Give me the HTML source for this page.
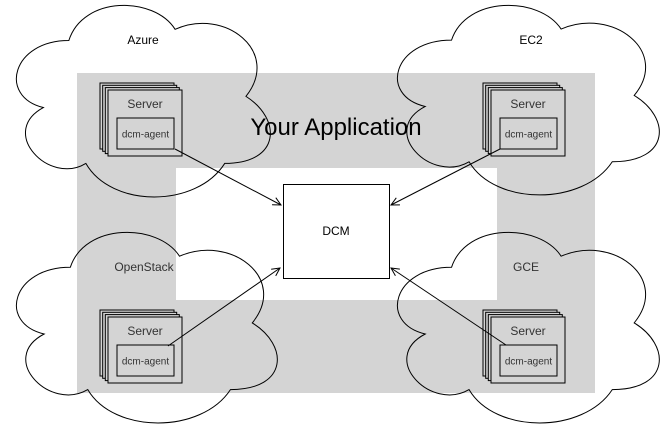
<!DOCTYPE html>
<html><head><style>
html,body{margin:0;padding:0;background:#fff;}
svg{display:block;font-family:"Liberation Sans",sans-serif;}
</style></head><body>
<svg width="672" height="431" viewBox="0 0 672 431">
<defs>
<marker id="ah" markerWidth="10" markerHeight="10" refX="9" refY="5" orient="auto" markerUnits="userSpaceOnUse">
<path d="M1,1 L9,5 L1,9" fill="none" stroke="#000" stroke-width="1"/>
</marker>
<g id="stack">
<rect x="0" y="0" width="74" height="66" fill="#d4d4d4" stroke="#000" stroke-width="1"/>
<rect x="2.7" y="2.3" width="74" height="66" fill="#d4d4d4" stroke="#000" stroke-width="1"/>
<rect x="5.3" y="4.6" width="74" height="66" fill="#d4d4d4" stroke="#000" stroke-width="1"/>
<rect x="8" y="7" width="74" height="66" fill="#d4d4d4" stroke="#000" stroke-width="1"/>
<text x="45" y="25" font-size="12" fill="#333" text-anchor="middle">Server</text>
<rect x="17" y="35" width="57" height="31" fill="none" stroke="#000" stroke-width="1"/>
<text x="45.5" y="54.5" font-size="10" fill="#333" text-anchor="middle">dcm-agent</text>
</g>
</defs>
<path fill-rule="evenodd" fill="#d4d4d4" d="M77,73 H595 V393 H77 Z M176,168 V300 H497 V168 Z"/>
<text x="336" y="135" font-size="24" text-anchor="middle" fill="#000">Your Application</text>
<rect x="283.5" y="184.5" width="106" height="94" fill="#fff" stroke="#000"/>
<text x="336" y="235" font-size="12" text-anchor="middle">DCM</text>

<use href="#stack" x="100" y="83"/>
<use href="#stack" x="483" y="83"/>
<use href="#stack" x="100" y="310"/>
<use href="#stack" x="483" y="310"/>

<g fill="none" stroke="#000" stroke-width="1">
<svg x="15" y="5" width="256" height="190" viewBox="2.2 7.3 108.4 68" preserveAspectRatio="none" overflow="visible"><path vector-effect="non-scaling-stroke" d="M25,20 C1,20 -5,40 14.2,44 C-5,52.8 16.6,72 32.2,64 C43,80 79,80 91,64 C115,64 115,48 100,40 C115,24 91,8 70,16 C61,4 31,4 25,20 Z"/></svg>
<svg x="396" y="5" width="264" height="188" viewBox="2.2 7.3 108.4 68" preserveAspectRatio="none" overflow="visible"><path vector-effect="non-scaling-stroke" d="M25,20 C1,20 -5,40 14.2,44 C-5,52.8 16.6,72 32.2,64 C43,80 79,80 91,64 C115,64 115,48 100,40 C115,24 91,8 70,16 C61,4 31,4 25,20 Z"/></svg>
<svg x="15" y="232" width="263" height="189" viewBox="2.2 7.3 108.4 68" preserveAspectRatio="none" overflow="visible"><path vector-effect="non-scaling-stroke" d="M25,20 C1,20 -5,40 14.2,44 C-5,52.8 16.6,72 32.2,64 C43,80 79,80 91,64 C115,64 115,48 100,40 C115,24 91,8 70,16 C61,4 31,4 25,20 Z"/></svg>
<svg x="396" y="232" width="264" height="189" viewBox="2.2 7.3 108.4 68" preserveAspectRatio="none" overflow="visible"><path vector-effect="non-scaling-stroke" d="M25,20 C1,20 -5,40 14.2,44 C-5,52.8 16.6,72 32.2,64 C43,80 79,80 91,64 C115,64 115,48 100,40 C115,24 91,8 70,16 C61,4 31,4 25,20 Z"/></svg>
</g>

<g font-size="12" fill="#000" text-anchor="middle">
<text x="143" y="44">Azure</text>
<text x="531" y="44">EC2</text>
<text x="144" y="271" fill="#333">OpenStack</text>
<text x="526" y="271" fill="#333">GCE</text>
</g>

<g stroke="#000" stroke-width="1" fill="none" marker-end="url(#ah)">
<line x1="175" y1="149" x2="281" y2="205"/>
<line x1="500" y1="149" x2="391" y2="205"/>
<line x1="168" y1="346" x2="280" y2="268"/>
<line x1="506" y1="345" x2="391" y2="268"/>
</g>
</svg>
</body></html>
